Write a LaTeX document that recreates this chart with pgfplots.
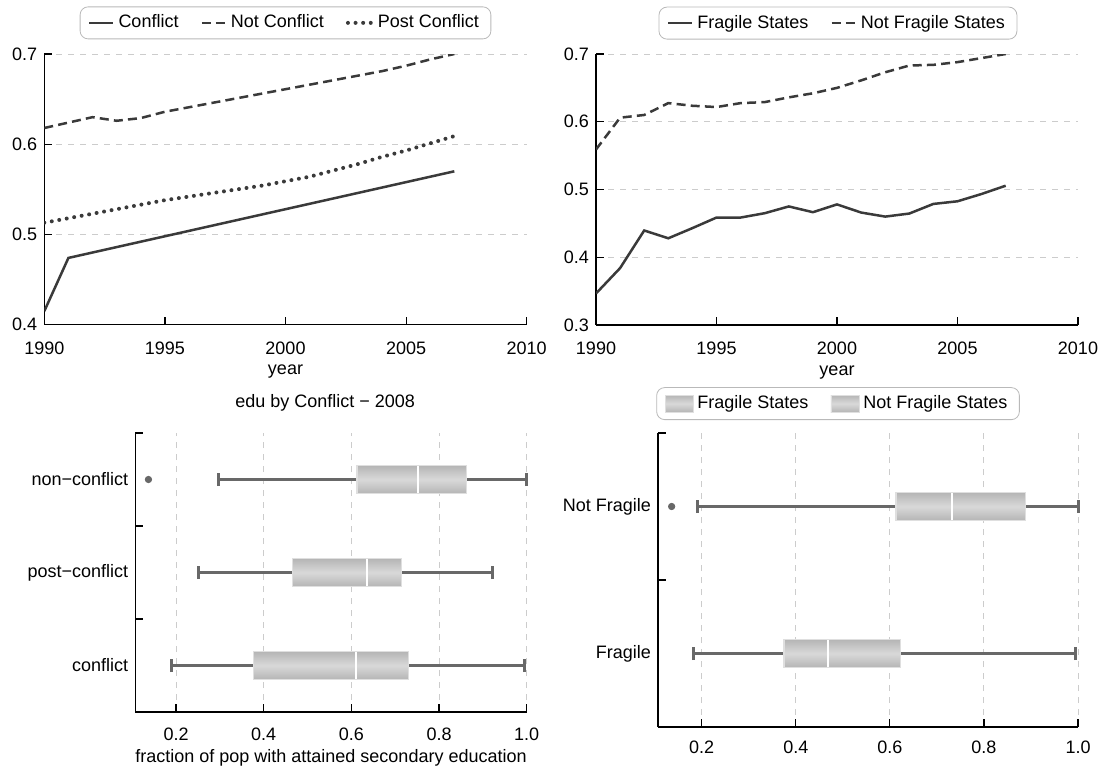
\documentclass[border=0pt]{standalone}
\usepackage{pgfplots}
\pgfplotsset{compat=1.18}
\usepgfplotslibrary{statistics}
\usepackage{fontspec}
\setmainfont{Liberation Sans}
\definecolor{ln}{HTML}{3A3A3A}
\definecolor{wh}{HTML}{686868}
\newcommand{\fs}{\fontsize{9}{10.5}\selectfont}
\pgfplotsset{
  base/.style={
    scale only axis,
    axis x line*=bottom, axis y line*=left,
    axis line style={black, line width=0.6pt},
    tick style={black, line width=0.6pt},
    tick align=inside,
    major tick length=4pt,
    minor tick length=4pt,
    tick label style={font=\fs},
    label style={font=\fs},
    title style={font=\fs},
    /pgf/number format/assume math mode=true,
    scaled ticks=false,
    grid style={dashed, gray!40, line width=0.5pt},
    legend style={draw=gray!55, rounded corners=4pt, font=\fs,
      inner xsep=4pt, inner ysep=2pt,
      /tikz/every even column/.append style={column sep=9pt}},
    legend columns=-1,
  },
  yrs/.style={
    xmin=1990, xmax=2010,
    xtick={1990,1995,2000,2005,2010},
    xticklabels={1990,1995,2000,2005,2010},
    xticklabel style={yshift=-5pt},
    xlabel={year},
    xlabel style={yshift=1.5pt},
    ymajorgrids,
    yticklabel style={/pgf/number format/fixed, /pgf/number format/fixed zerofill,
      /pgf/number format/precision=1},
  },
  bx/.style={
    clip=false,
    xmin=0.107, xmax=1.0,
    xtick={0.2,0.4,0.6,0.8,1.0},
    xticklabel style={/pgf/number format/fixed, /pgf/number format/fixed zerofill,
      /pgf/number format/precision=1},
    xmajorgrids,
    minor tick length=5pt,
    extra y tick style={major tick length=0pt},
    boxplot/every box/.style={draw=gray!25, line width=0.6pt,
      top color=gray!58, bottom color=gray!58, middle color=gray!30},
    boxplot/every whisker/.style={draw=wh, line width=1.5pt},
    boxplot/every median/.style={draw=white, line width=1pt},
  },
  bxplot/.style={wh, mark=*, mark size=1.6pt, mark options={fill=wh, draw=wh}},
}
\begin{document}
\begin{tikzpicture}
\path[use as bounding box] (0,0) rectangle (554.5pt,383.5pt);

%% top left: by conflict status
\begin{axis}[base, yrs,
  at={(22.15pt,221.15pt)}, anchor=south west,
  width=241.2pt, height=135.35pt,
  ymin=0.4, ymax=0.7, ytick={0.4,0.5,0.6,0.7},
  legend style={at={(0.5,1.115)}, anchor=center},
  legend image code/.code={\draw[#1] (0cm,0cm) -- (0.42cm,0cm);},
]
\addplot[ln, line width=1.25pt] coordinates {
  (1990,0.415) (1991,0.474) (1992,0.480) (1993,0.486) (1994,0.492) (1995,0.498)
  (1996,0.504) (1997,0.510) (1998,0.516) (1999,0.522) (2000,0.528) (2001,0.534)
  (2002,0.540) (2003,0.546) (2004,0.552) (2005,0.558) (2006,0.564) (2007,0.570)
};
\addlegendentry{Conflict}
\addplot[ln, line width=1.25pt, dash pattern=on 4.5pt off 2.6pt] coordinates {
  (1990,0.618) (1991,0.624) (1992,0.630) (1993,0.626) (1994,0.629) (1995,0.636)
  (1996,0.641) (1997,0.646) (1998,0.651) (1999,0.656) (2000,0.661) (2001,0.666)
  (2002,0.671) (2003,0.676) (2004,0.681) (2005,0.687) (2006,0.694) (2007,0.700)
};
\addlegendentry{Not Conflict}
\addplot[ln, line width=2pt, line cap=round, dash pattern=on 0pt off 3.8pt] coordinates {
  (1990,0.513) (1991,0.518) (1992,0.523) (1993,0.528) (1994,0.533) (1995,0.538)
  (1996,0.542) (1997,0.546) (1998,0.550) (1999,0.554) (2000,0.559) (2001,0.564)
  (2002,0.571) (2003,0.578) (2004,0.586) (2005,0.593) (2006,0.601) (2007,0.609)
};
\addlegendentry{Post Conflict}
\end{axis}

%% top right: by fragility
\begin{axis}[base, yrs,
  at={(298pt,221pt)}, anchor=south west,
  width=241pt, height=135.5pt,
  ymin=0.3, ymax=0.7, ytick={0.3,0.4,0.5,0.6,0.7},
  legend style={at={(0.502,1.114)}, anchor=center},
  legend image code/.code={\draw[#1] (0cm,0cm) -- (0.42cm,0cm);},
]
\addplot[ln, line width=1.25pt] coordinates {
  (1990,0.3465) (1991,0.384) (1992,0.4395) (1993,0.428) (1994,0.443) (1995,0.4586)
  (1996,0.4586) (1997,0.465) (1998,0.475) (1999,0.4665) (2000,0.478) (2001,0.466)
  (2002,0.460) (2003,0.4645) (2004,0.4787) (2005,0.4826) (2006,0.4934) (2007,0.5056)
};
\addlegendentry{Fragile States}
\addplot[ln, line width=1.25pt, dash pattern=on 4.5pt off 2.6pt] coordinates {
  (1990,0.559) (1991,0.606) (1992,0.610) (1993,0.6275) (1994,0.6236) (1995,0.6217)
  (1996,0.6275) (1997,0.629) (1998,0.636) (1999,0.642) (2000,0.650) (2001,0.661)
  (2002,0.673) (2003,0.683) (2004,0.684) (2005,0.688) (2006,0.694) (2007,0.700)
};
\addlegendentry{Not Fragile States}
\end{axis}

%% bottom left: boxplots by conflict, 2008
\begin{axis}[base, bx,
  at={(67.65pt,27.5pt)}, anchor=south west,
  width=195.7pt, height=139.5pt,
  ymin=0.5, ymax=3.5,
  ytick={1.5,2.5,3.5}, yticklabels={},
  extra y ticks={1,2,3},
  extra y tick labels={conflict,post−conflict,non−conflict},
  xticklabel style={yshift=-4.5pt},
  title={edu by Conflict − 2008},
  title style={at={(0.485,1.107)}, anchor=center, yshift=-6pt},
  xlabel={fraction of pop with attained secondary education},
  xlabel style={yshift=2.5pt},
  boxplot/box extend=0.3,
  boxplot/whisker extend=0.14,
]
\addplot[bxplot, boxplot prepared={draw position=1,
  lower whisker=0.189, lower quartile=0.376, median=0.611,
  upper quartile=0.730, upper whisker=0.996}] coordinates {};
\addplot[bxplot, boxplot prepared={draw position=2,
  lower whisker=0.251, lower quartile=0.466, median=0.635,
  upper quartile=0.714, upper whisker=0.922}] coordinates {};
\addplot[bxplot, boxplot prepared={draw position=3,
  lower whisker=0.297, lower quartile=0.613, median=0.752,
  upper quartile=0.862, upper whisker=1.0}] coordinates {(0,0.137)};
\end{axis}

%% bottom right: boxplots by fragility
\begin{axis}[base, bx,
  at={(329pt,20pt)}, anchor=south west,
  width=210pt, height=147pt,
  ymin=0.5, ymax=2.5,
  ytick={1.5,2.5}, yticklabels={},
  extra y ticks={1,2},
  extra y tick labels={Fragile,Not Fragile},
  xticklabel style={yshift=-3.5pt},
  boxplot/box extend=0.19,
  boxplot/whisker extend=0.09,
  legend style={at={(0.4286,1.1)}, anchor=center},
]
\addlegendimage{legend image code/.code={
  \draw[sharp corners, draw=gray!25, top color=gray!58, bottom color=gray!58, middle color=gray!30]
    (0pt,-4.3pt) rectangle (14pt,4.3pt);}}
\addlegendentry{Fragile States}
\addlegendimage{legend image code/.code={
  \draw[sharp corners, draw=gray!25, top color=gray!58, bottom color=gray!58, middle color=gray!30]
    (0pt,-4.3pt) rectangle (14pt,4.3pt);}}
\addlegendentry{Not Fragile States}
\addplot[bxplot, forget plot, boxplot prepared={draw position=1,
  lower whisker=0.183, lower quartile=0.375, median=0.468,
  upper quartile=0.623, upper whisker=0.995}] coordinates {};
\addplot[bxplot, forget plot, boxplot prepared={draw position=2,
  lower whisker=0.192, lower quartile=0.613, median=0.732,
  upper quartile=0.888, upper whisker=1.0}] coordinates {(0,0.136)};
\end{axis}
\end{tikzpicture}
\end{document}
